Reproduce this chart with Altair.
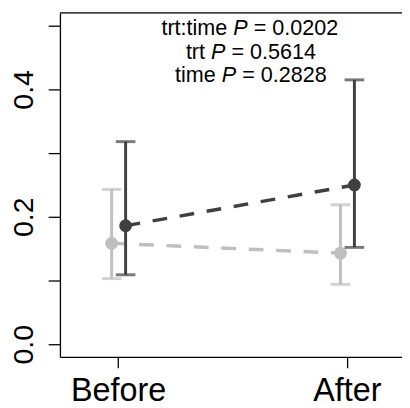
import altair as alt
import pandas as pd

# data
groups = ["light", "light", "dark", "dark"]
times = [1, 2, 1, 2]
means = [0.1585, 0.143, 0.186, 0.250]
lowers = [0.103, 0.094, 0.109, 0.152]
uppers = [0.243, 0.219, 0.318, 0.415]

ann_prefix = ["trt:time", "trt", "time"]
ann_suffix = ["= 0.0202", "= 0.5614", "= 0.2828"]
ann_x = [1.535, 1.438, 1.485]
ann_y = [0.485, 0.4485, 0.4115]

df = pd.DataFrame({"grp": groups, "t": times, "m": means, "lo": lowers, "hi": uppers})
ann = pd.DataFrame({"pre": ann_prefix, "suf": ann_suffix, "x": ann_x, "y": ann_y})

FONT = "Liberation Sans"
xs = alt.Scale(domain=[0.746, 2.241], nice=False, zero=False)
ys = alt.Scale(domain=[-0.02, 0.52], nice=False, zero=False)

xaxis = alt.Axis(values=[1, 2], labelExpr="datum.value == 1 ? 'Before' : 'After'",
                 title=None, grid=False, tickSize=11, tickWidth=1.3, tickColor="black",
                 domainColor="black", domainWidth=1.3, labelFont=FONT, labelFontSize=33,
                 labelColor="black", labelBaseline="alphabetic", labelPadding=33,
                 labelAlign="center", labelAngle=0)
yaxis = alt.Axis(values=[0, 0.1, 0.2, 0.3, 0.4, 0.5],
                 labelExpr="round(datum.value*10) % 2 == 0 ? format(datum.value, '.1f') : ''",
                 title=None, grid=False, tickSize=12, tickWidth=1.3, tickColor="black",
                 domainColor="black", domainWidth=1.3, labelFont=FONT, labelFontSize=29,
                 labelColor="black", labelAngle=270, labelAlign="center",
                 labelBaseline="alphabetic", labelPadding=16)

base = alt.Chart(df).transform_calculate(
    xp="datum.t + (datum.grp == 'dark' ? 0.033 : -0.028)"
)

layers = []
for g in ["light", "dark"]:
    b = base.transform_filter(alt.datum.grp == g)
    col = "#bfbfbf" if g == "light" else "#404040"
    line = b.mark_line(strokeDash=[15, 13], strokeWidth=3.5, color=col).encode(
        x=alt.X("xp:Q", scale=xs, axis=xaxis), y=alt.Y("m:Q", scale=ys, axis=yaxis))
    bars = b.mark_rule(strokeWidth=3, color=col).encode(
        x=alt.X("xp:Q", scale=xs), y=alt.Y("lo:Q", scale=ys), y2="hi:Q")
    cap_lo = b.mark_tick(orient="horizontal", size=20, thickness=3, color=col).encode(
        x=alt.X("xp:Q", scale=xs), y=alt.Y("lo:Q", scale=ys))
    cap_hi = b.mark_tick(orient="horizontal", size=20, thickness=3, color=col).encode(
        x=alt.X("xp:Q", scale=xs), y=alt.Y("hi:Q", scale=ys))
    pts = b.mark_circle(size=170, opacity=1, color=col).encode(
        x=alt.X("xp:Q", scale=xs), y=alt.Y("m:Q", scale=ys))
    layers += [line, bars, cap_lo, cap_hi, pts]

top = alt.Chart(pd.DataFrame({"v": [0.52]})).mark_rule(color="black", strokeWidth=1.3).encode(
    y=alt.Y("v:Q", scale=ys), x=alt.value(0), x2=alt.value(360))

a = alt.Chart(ann)
pre = a.mark_text(font=FONT, fontSize=22, align="right", baseline="alphabetic", dx=-13.5,
                  color="black").encode(x=alt.X("x:Q", scale=xs), y=alt.Y("y:Q", scale=ys), text="pre:N")
pp = a.mark_text(font=FONT, fontSize=22, fontStyle="italic", align="center", baseline="alphabetic",
                 color="black").encode(x=alt.X("x:Q", scale=xs), y=alt.Y("y:Q", scale=ys), text=alt.value("P"))
suf = a.mark_text(font=FONT, fontSize=22, align="left", baseline="alphabetic", dx=13.5,
                  color="black").encode(x=alt.X("x:Q", scale=xs), y=alt.Y("y:Q", scale=ys), text="suf:N")

chart = alt.layer(top, *layers, pre, pp, suf).properties(
    width=349, height=351,
    padding={"left": 53, "top": 1, "right": 0, "bottom": 48},
    autosize="none",
).configure_view(stroke=None).configure(background="white")

chart.save("out.html", embed_options={"renderer": "svg", "actions": False})
